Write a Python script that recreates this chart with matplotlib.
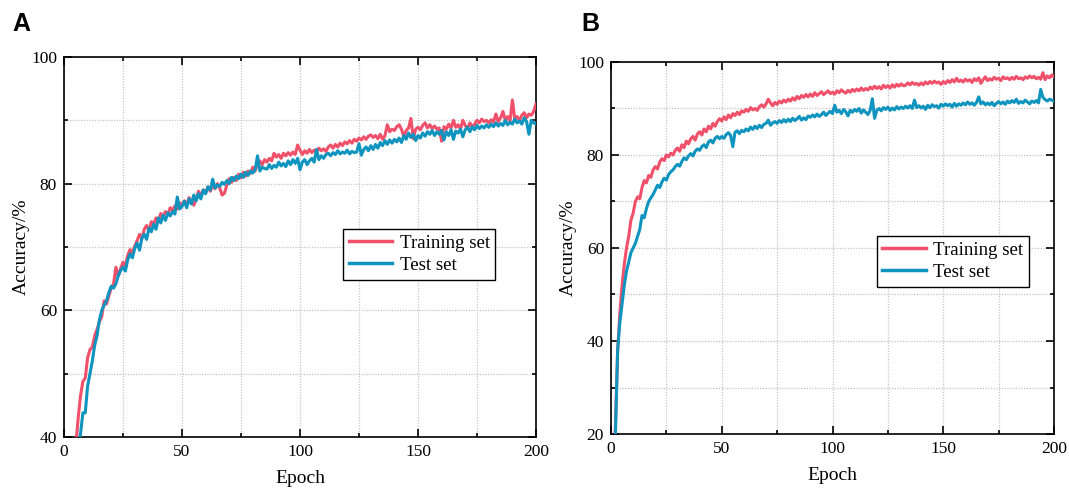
import matplotlib
matplotlib.use("Agg")
import matplotlib.pyplot as plt
from matplotlib.ticker import MultipleLocator

epochs = list(range(0, 201))

a_train = [
    10.0, 20.0, 27.0, 32.0, 36.0, 38.5, 43.0, 46.5, 48.8, 49.3,
    52.5, 53.8, 54.2, 56.0, 57.0, 58.2, 59.0, 61.5, 61.0, 62.3,
    63.5, 64.2, 66.8, 65.4, 66.6, 67.6, 67.0, 68.7, 69.6, 69.0,
    70.2, 71.0, 72.0, 71.3, 72.8, 73.4, 72.6, 74.0, 73.6, 74.6,
    74.2, 75.3, 74.8, 75.6, 75.1, 76.2, 75.8, 76.5, 76.0, 77.0,
    76.6, 77.3, 76.7, 77.8, 77.2, 76.6, 77.6, 78.8, 78.1, 79.0,
    78.6, 79.5, 78.8, 79.8, 79.2, 80.0, 79.3, 78.2, 78.5, 79.8,
    80.8, 80.2, 81.0, 80.5, 81.5, 80.9, 81.8, 81.2, 82.0, 81.6,
    82.6, 82.0, 83.2, 83.6, 83.0, 83.8, 83.4, 84.0, 83.6, 84.8,
    84.2, 84.6, 84.0, 84.8, 84.4, 84.9, 84.5, 85.0, 84.6, 86.1,
    85.3, 84.6, 85.2, 84.8, 85.4, 84.9, 85.3, 85.0, 85.6, 85.2,
    85.5, 85.1, 85.8, 86.1, 85.6, 86.2, 85.8, 86.4, 86.0, 86.6,
    86.3, 86.8, 86.4, 87.0, 86.7, 87.2, 86.9, 87.4, 87.0, 87.5,
    87.7, 87.3, 87.6, 87.1, 87.8, 87.0, 87.6, 89.3, 88.2, 88.6,
    88.4, 89.0, 89.3, 88.6, 87.4, 88.4, 88.8, 90.3, 87.1, 88.6,
    88.9, 88.5, 89.2, 89.6, 88.8, 89.3, 88.7, 89.1, 88.6, 88.8,
    86.7, 89.0, 88.6, 89.4, 88.8, 90.0, 88.9, 89.3, 88.6, 90.0,
    89.2, 88.7, 89.6, 89.0, 89.4, 90.0, 89.6, 90.2, 89.8, 90.0,
    89.6, 90.1, 89.7, 91.0, 89.8, 90.4, 91.4, 90.0, 90.6, 89.9,
    93.2, 90.2, 90.6, 90.0, 90.8, 91.2, 90.4, 91.0, 90.8, 91.4,
    92.6,
]

a_test = [
    5.0, 15.0, 22.0, 28.0, 33.0, 36.0, 38.0, 40.5, 43.8, 43.8,
    48.0, 50.0, 52.0, 54.5, 56.0, 58.5, 60.0, 60.8, 61.5, 62.8,
    63.8, 63.5, 64.2, 65.5, 66.3, 66.8, 66.2, 68.0, 68.9, 68.3,
    69.8, 70.6, 69.5, 71.4, 72.0, 71.2, 73.0, 72.4, 73.6, 72.8,
    74.6, 73.8, 75.0, 74.2, 75.4, 74.9, 75.6, 75.2, 77.9, 76.0,
    76.4, 77.2, 76.2, 77.6, 76.8, 78.2, 77.3, 78.4, 77.6, 79.0,
    78.4, 79.5, 79.0, 80.7, 79.3, 79.8, 79.6, 80.2, 79.9, 80.5,
    80.0, 81.0, 80.5, 81.2, 80.8, 81.5, 81.0, 81.8, 81.3, 82.0,
    81.7, 82.2, 84.4, 82.0, 82.6, 82.4, 82.3, 83.0, 82.4, 82.9,
    82.6, 83.4, 82.8, 83.2, 82.7, 83.6, 83.0, 83.8, 83.2, 84.0,
    82.2, 83.4, 83.8, 83.0, 83.6, 84.0, 83.4, 85.4, 83.8, 84.4,
    84.0, 84.6, 84.8, 84.4, 84.9, 84.6, 85.2, 84.7, 85.0, 84.8,
    85.3, 84.7, 85.1, 84.9, 85.0, 86.3, 84.5, 85.4, 85.8, 85.2,
    86.0, 85.4, 86.2, 85.6, 86.5, 86.0, 86.8, 86.2, 86.9, 86.4,
    87.0, 86.6, 87.2, 86.5, 87.6, 87.0, 88.0, 87.3, 87.8, 86.8,
    87.6, 87.2, 88.0, 87.5, 88.2, 87.8, 88.4, 87.6, 88.2, 87.8,
    88.4, 86.9, 88.2, 87.6, 88.5, 87.0, 88.3, 88.0, 88.6, 87.4,
    88.5, 88.9, 88.2, 89.0, 88.5, 89.2, 88.7, 89.1, 88.8, 89.3,
    88.9, 89.4, 89.0, 89.6, 89.1, 89.5, 89.2, 90.0, 89.3, 89.7,
    89.4, 90.2, 89.6, 89.9, 89.4, 90.4, 89.8, 87.8, 90.0, 89.6,
    89.4,
]

b_train = [
    5.0, 10.0, 22.0, 38.0, 46.0, 52.0, 56.5, 60.0, 62.5, 66.0,
    67.5, 70.0, 71.0, 70.6, 73.0, 74.5, 74.0, 75.6, 75.2, 76.8,
    77.5, 77.0, 78.5, 79.2, 78.8, 80.0, 79.6, 80.4, 80.0, 81.0,
    81.5, 80.8, 82.2, 81.6, 83.0, 82.4, 83.5, 84.0, 83.2, 84.5,
    85.0, 84.3, 85.6, 85.0, 86.2, 85.6, 86.8, 86.2, 87.2, 87.8,
    87.3, 88.2, 87.6, 88.6, 88.0, 88.9, 88.5, 89.2, 88.7, 89.5,
    89.2, 89.8, 89.4, 90.2, 89.7, 90.0, 89.6, 90.4, 90.8, 90.3,
    91.0, 92.0, 91.2, 90.6, 91.3, 90.9, 91.6, 91.2, 91.8, 91.4,
    92.0, 91.6, 92.3, 91.8, 92.6, 92.1, 92.8, 92.4, 93.0, 92.5,
    93.1, 92.6, 93.4, 92.8, 93.2, 93.6, 93.0, 93.4, 93.8, 93.2,
    93.5, 93.1, 93.8, 93.4, 94.0, 93.6, 93.3, 93.9, 93.5, 94.1,
    93.7, 94.2, 93.8, 94.4, 93.9, 94.3, 94.0, 94.6, 94.2, 94.8,
    94.3, 94.7, 94.2, 95.0, 94.5, 94.9, 94.4, 95.1, 94.6, 95.2,
    94.8, 95.3, 94.9, 95.0, 95.5, 95.1, 95.6, 95.2, 95.4, 95.0,
    95.5, 95.1, 95.7, 95.3, 95.8, 95.4, 95.9, 95.5, 95.7, 95.2,
    95.8, 95.4, 96.0, 95.6, 96.2, 95.7, 96.5, 95.8, 96.1, 95.7,
    96.3, 95.9, 96.2, 95.6, 96.4, 96.0, 96.6, 95.4, 96.2, 96.8,
    96.0, 96.4, 96.1, 96.7, 96.3, 96.5, 96.0, 96.8, 96.4, 96.6,
    96.2, 96.7, 96.3, 96.9, 96.4, 96.6, 96.2, 96.8, 96.5, 97.0,
    96.6, 96.9, 96.4, 96.7, 96.3, 97.7, 96.2, 97.0, 96.6, 97.2,
    96.8,
]

b_test = [
    2.0, 8.0, 20.0, 38.0, 44.0, 48.0, 52.0, 55.0, 57.0, 59.0,
    60.0, 61.0, 62.5, 64.0, 67.0, 66.5, 68.5, 70.0, 70.8, 71.5,
    72.5, 73.5, 73.0, 74.2, 75.0, 74.6, 75.8, 76.4, 76.8, 77.5,
    78.0, 77.6, 78.6, 79.4, 79.0, 79.8, 80.3, 79.8, 80.8, 81.3,
    81.0, 81.8, 82.2, 81.6, 82.8, 83.2, 82.6, 83.6, 84.0, 83.5,
    84.0, 83.6, 84.4, 84.8, 84.2, 81.8, 84.9, 85.2, 84.6, 85.3,
    85.0, 85.6, 85.2, 86.0, 85.5, 86.2, 85.7, 86.4, 85.9, 86.6,
    86.8, 87.5, 86.4, 86.9, 87.2, 86.8, 87.4, 87.0, 87.6, 87.1,
    87.7, 87.2, 87.9, 87.4, 87.8, 88.3, 87.5, 88.0, 87.6, 88.4,
    88.1, 88.6, 88.2, 88.8, 88.3, 88.7, 89.2, 88.5, 89.0, 89.4,
    88.9, 90.7, 89.2, 89.6, 88.9, 89.8, 89.3, 88.4, 89.6, 89.2,
    89.8, 89.4, 90.0, 89.0, 89.7, 89.2, 88.7, 89.6, 92.1, 87.9,
    89.6, 90.0, 89.5, 90.2, 89.8, 90.3, 89.6, 90.1, 89.7, 90.4,
    89.9, 90.3, 90.0, 90.5, 90.1, 90.6, 90.0, 91.8, 90.2, 90.6,
    90.1, 90.5, 89.8, 90.7, 90.2, 90.8, 90.4, 90.6, 90.1, 90.9,
    90.5, 91.0, 90.6, 90.9, 90.3, 91.1, 90.5, 91.0, 90.7, 91.2,
    90.8, 91.4, 90.9, 91.2, 90.7, 91.3, 92.5, 91.0, 91.4, 90.8,
    91.2, 90.8, 91.3, 90.6, 91.1, 91.5, 91.0, 91.4, 90.9, 91.6,
    91.2, 91.7, 91.3, 92.0, 91.1, 91.5, 91.2, 91.8, 91.4, 91.0,
    91.6, 91.3, 91.7, 91.2, 94.1, 92.4, 91.9, 91.6, 92.0, 91.8,
    91.6,
]

series_labels = ["Training set", "Test set"]
panel_letters = ["A", "B"]
x_label = "Epoch"
y_label = "Accuracy/%"

RED = "#F0506A"
BLUE = "#0E94BE"

plt.rcParams["font.family"] = ["Liberation Serif", "DejaVu Serif"]

fig = plt.figure(figsize=(10.69, 4.90), dpi=100)

ax_a = fig.add_axes([64/1069, 53/490, 472/1069, 380/490])
ax_b = fig.add_axes([611/1069, 56/490, 443/1069, 372/490])

configs = [
    (ax_a, a_train, a_test, (40, 100), (0.591, 0.547)),
    (ax_b, b_train, b_test, (20, 100), (0.600, 0.532)),
]

for ax, tr, te, ylim, legpos in configs:
    ax.plot(epochs, tr, color=RED, lw=2.2, label=series_labels[0], zorder=3)
    ax.plot(epochs, te, color=BLUE, lw=2.2, label=series_labels[1], zorder=3)
    ax.set_xlim(0, 200)
    ax.set_ylim(*ylim)
    ax.xaxis.set_major_locator(MultipleLocator(50))
    ax.xaxis.set_minor_locator(MultipleLocator(25))
    ax.yaxis.set_major_locator(MultipleLocator(20))
    ax.yaxis.set_minor_locator(MultipleLocator(10))
    ax.grid(True, which="both", color="#c4c4c4", linestyle=(0, (1, 1.2)), lw=0.9, zorder=0)
    ax.tick_params(which="both", direction="in", top=True, right=True,
                   labelsize=12.5, width=1.2, pad=5)
    ax.tick_params(which="major", length=6)
    ax.tick_params(which="minor", length=3)
    for s in ax.spines.values():
        s.set_linewidth(1.2)
    ax.set_xlabel(x_label, fontsize=14, labelpad=7)
    ax.set_ylabel(y_label, fontsize=14, labelpad=1)
    leg = ax.legend(loc="upper left", bbox_to_anchor=legpos, borderaxespad=0,
                    fontsize=13.6, frameon=True, fancybox=False, framealpha=1,
                    edgecolor="black", handlelength=2.3, handletextpad=0.4,
                    labelspacing=0.25, borderpad=0.3)
    leg.get_frame().set_linewidth(1.0)
    for h in leg.get_lines():
        h.set_linewidth(2.5)

fig.text(12/1069, 1 - 31/490, panel_letters[0], fontsize=18, fontweight="bold",
         family=["Liberation Sans", "DejaVu Sans"], ha="left", va="baseline")
fig.text(581/1069, 1 - 31/490, panel_letters[1], fontsize=18, fontweight="bold",
         family=["Liberation Sans", "DejaVu Sans"], ha="left", va="baseline")

fig.savefig("out.png", dpi=100)
